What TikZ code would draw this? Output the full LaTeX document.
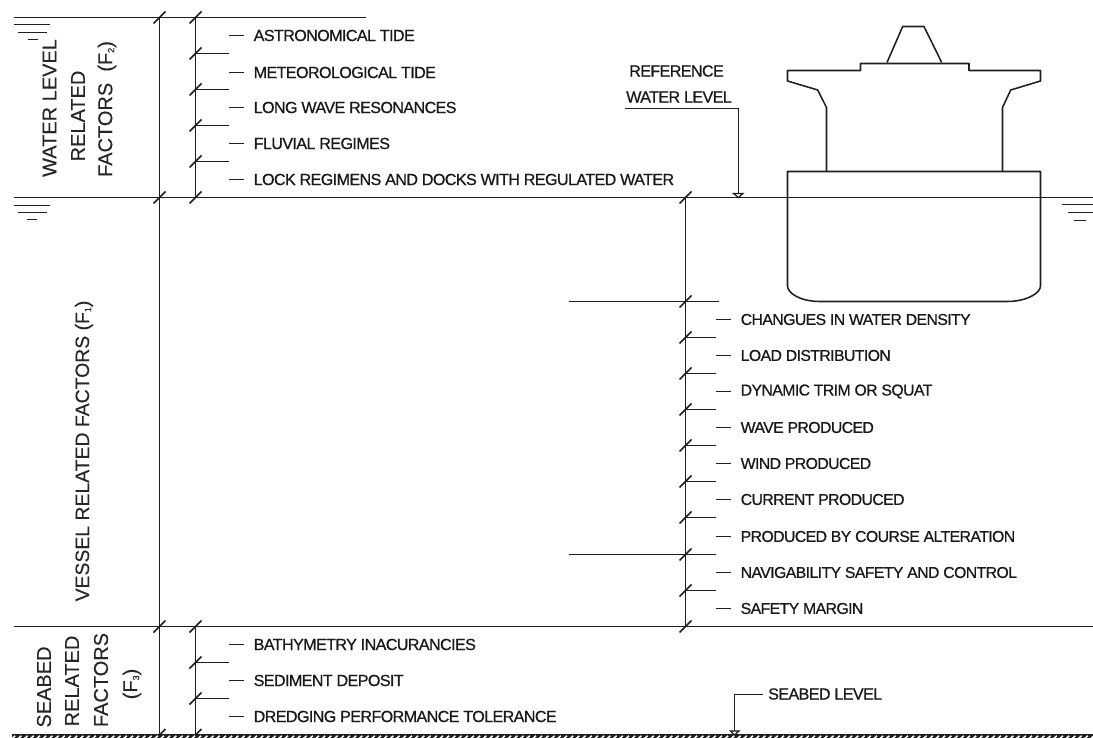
\documentclass[tikz,border=0pt]{standalone}
\usepackage{fontspec}
\setmainfont{Liberation Sans}
\newfontfamily\labfont[FakeBold=0.7,LetterSpace=-3.7]{Liberation Sans}
\newfontfamily\vfont[FakeBold=0.2]{Liberation Sans}
\tikzset{
  ln/.style={draw=black!88,line width=1.75pt},
  thin ln/.style={draw=black!88,line width=1.55pt},
  lab/.style={anchor=west,inner sep=0pt,text=black!90,font=\labfont\fontsize{16.1}{17}\selectfont},
  labr/.style={lab,font=\labfont\fontsize{15.8}{17}\selectfont},
  vlab/.style={rotate=90,inner sep=0pt,text=black!85,font=\vfont\fontsize{20}{22}\selectfont},
  tip/.style={draw=black!88,line width=1.2pt,fill=white},
}
\newcommand{\subsc}[1]{{\fontsize{9}{9}\selectfont\raisebox{-2pt}{#1}}}
\newcommand{\tickat}[1]{\draw[ln] ([shift={(-6,6)}]#1) -- ([shift={(6,-6)}]#1);}
\begin{document}
\begin{tikzpicture}[x=1pt,y=-1pt]
\useasboundingbox (0,0) rectangle (1093,738);
% level lines
\coordinate (topL) at (14,17.5);   \coordinate (topR) at (366,17.5);
\coordinate (wlL) at (14,197.5); \coordinate (wlR) at (1093,197.5);
\coordinate (sbL) at (14,626.5);   \coordinate (sbR) at (1093,626.5);
\coordinate (keelL) at (569,301.5);\coordinate (keelR) at (719,301.5);
\coordinate (navL) at (569,554.5); \coordinate (navR) at (716,554.5);
\coordinate (a1) at (159.5,17.5);  \coordinate (a2) at (159.5,197.5);
\coordinate (a3) at (159.5,626.5); \coordinate (a4) at (159.5,735);
\coordinate (b1) at (195.5,17.5);  \coordinate (b2) at (195.5,197.5);
\coordinate (b3) at (195.5,626.5); \coordinate (b4) at (195.5,735);
\coordinate (c1) at (685.5,197.5);\coordinate (c2) at (685.5,626.5);
\draw[ln] (topL) -- (topR);
\draw[ln] (wlL) -- (wlR);
\draw[ln] (sbL) -- (sbR);
\draw[ln] (keelL) -- (keelR);
\draw[ln] (navL) -- (navR);
\draw[ln] (a1) -- (a4);
\draw[ln] (b1) -- (b2);
\draw[ln] (b3) -- (b4);
\draw[ln] (c1) -- (c2);
\tickat{a1}\tickat{a2}\tickat{a3}\tickat{a4}
\tickat{b1}\tickat{b2}\tickat{b3}\tickat{b4}
\tickat{c1}\tickat{c2}
\coordinate (k) at (685.5,301.5); \tickat{k}
\coordinate (n) at (685.5,554.5); \tickat{n}
% intermediate dimension ticks
\foreach \y in {53.5,89.5,125.5,161.5}{
  \coordinate (p) at (195.5,\y); \tickat{p}
  \draw[thin ln] (p) -- +(33.5,0);
}
\foreach \y in {662.5,698.5}{
  \coordinate (p) at (195.5,\y); \tickat{p}
  \draw[thin ln] (p) -- +(33.5,0);
}
\foreach \y in {337.5,373.5,409.5,445.5,481.5,517.5,590.5}{
  \coordinate (p) at (685.5,\y); \tickat{p}
  \draw[thin ln] (p) -- +(30.5,0);
}
% left labels
\foreach \y/\t [count=\i] in {35.5/ASTRONOMICAL TIDE,72.5/METEOROLOGICAL TIDE,107.5/LONG WAVE RESONANCES,143.5/FLUVIAL REGIMES,179.5/LOCK REGIMENS AND DOCKS WITH REGULATED WATER,644.5/BATHYMETRY INACURANCIES,680.5/SEDIMENT DEPOSIT,716.5/DREDGING PERFORMANCE TOLERANCE}{
  \node[lab] (L\i) at (253.5,\y) {\t};
  \draw[thin ln] (L\i.west) ++(-24.5,0) -- ++(14.5,0);
}
% right labels
\foreach \y/\t [count=\i] in {319.5/CHANGUES IN WATER DENSITY,355.5/LOAD DISTRIBUTION,391.5/DYNAMIC TRIM OR SQUAT,427.5/WAVE PRODUCED,463.5/WIND PRODUCED,499.5/CURRENT PRODUCED,536.5/PRODUCED BY COURSE ALTERATION,572.5/NAVIGABILITY SAFETY AND CONTROL,608.5/SAFETY MARGIN}{
  \node[labr] (R\i) at (740.5,\y) {\t};
  \draw[thin ln] (R\i.west) ++(-24.5,0) -- ++(14.5,0);
}
% vertical labels
\node[vlab] (v1) at (49.5,108) {WATER LEVEL};
\node[vlab] (v2) at (78,116) {RELATED};
\node[vlab] (v3) at (107,109) {FACTORS\ \ (F\subsc{2})};
\node[vlab,font=\vfont\fontsize{19.4}{22}\selectfont] (v4) at (84,451) {VESSEL RELATED FACTORS (F\subsc{1})};
\node[vlab] (v5) at (44,687) {SEABED};
\node[vlab] (v6) at (72,681) {RELATED};
\node[vlab] (v7) at (101,680) {FACTORS};
\node[vlab] (v8) at (132,684) {(F\subsc{3})};
% water symbols
\draw[thin ln] (14,24.5)--(50,24.5) (18,32.5)--(47,32.5) (28,39.5)--(38,39.5);
\draw[thin ln] (14,205.5)--(50,205.5) (18,212.5)--(47,212.5) (27,219.5)--(37,219.5);
\draw[thin ln] (1062,204.5)--(1093,204.5) (1068,212.5)--(1093,212.5) (1074,220.5)--(1086,220.5);
% ship
\draw[thin ln,line join=round] (887,62.5)--(902.7,26.5)--(924,26.5)--(941.7,62.5);
\draw[thin ln,line join=round] (826.5,171)--(826.5,107.5)--(817.7,90)--(787.5,81)--(787.5,70.5)--(860.5,70.5)--(860.5,63.5)--(969,63.5)--(969,70.5)--(1040.5,70.5)--(1040.5,81)--(1010.7,90)--(1002.5,107.5)--(1002.5,171);
\draw[thin ln,line join=round] (787.5,171.5)--(1040.5,171.5)--(1040.5,286) .. controls (1040.5,293) and (1027,301.5) .. (1006.7,301.5) -- (820,301.5) .. controls (800,301.5) and (787.5,293) .. (787.5,286) -- cycle;
% reference water level
\node[lab,anchor=center] (ref1) at (676.5,71) {REFERENCE};
\node[lab,anchor=center] (ref2) at (679,97) {WATER LEVEL};
\coordinate (refA) at (625,108.5);
\coordinate (refB) at (738.5,108.5);
\coordinate (refC) at (738.5,193.5);
\draw[thin ln] (refA) -- (refB) -- (refC);
\draw[tip] (733.5,193.5) -- (743,193.5) -- (738.5,197.5) -- cycle;
% seabed level
\node[lab] (sb) at (768,694) {SEABED LEVEL};
\coordinate (sbA) at (763,694.5);
\coordinate (sbB) at (734.5,694.5);
\coordinate (sbC) at (734.5,731);
\draw[thin ln] (sbA) -- (sbB) -- (sbC);
\draw[tip] (730.5,731) -- (739,731) -- (734.5,735) -- cycle;
% seabed hatch
\fill[black!88] (12,734) rectangle (1093,738);
\foreach \x in {12,18.2,...,1093}{
  \draw[white,line width=1.5pt] (\x,738.5) -- (\x+3.2,735.8);
}
\end{tikzpicture}
\end{document}
